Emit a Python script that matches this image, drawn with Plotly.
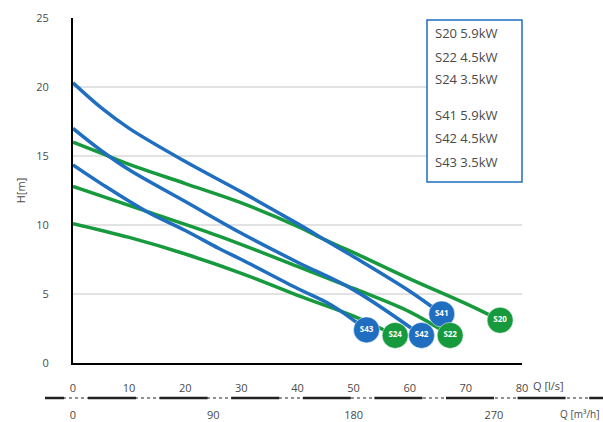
import plotly.graph_objects as go

# pump curves: flow Q [l/s] vs head H [m]
q_s41 = [0, 5, 10, 20, 30, 40, 45, 50, 60, 65.7]
h_s41 = [20.3, 18.5, 17.0, 14.6, 12.4, 10.1, 8.9, 7.7, 5.2, 3.55]
q_s42 = [0, 5, 10, 20, 30, 40, 50, 62.1]
h_s42 = [17.0, 15.4, 14.0, 11.7, 9.4, 7.3, 5.3, 2.0]
q_s43 = [0, 5, 13, 20, 26, 30, 40, 46, 52.3]
h_s43 = [14.35, 13.0, 11.0, 9.6, 8.3, 7.5, 5.4, 4.2, 2.4]

q_s20 = [0, 5, 10, 20, 30, 40, 45, 50, 60, 70, 76.1]
h_s20 = [16.0, 15.2, 14.4, 13.0, 11.6, 9.9, 8.9, 8.0, 6.1, 4.3, 3.1]
q_s22 = [0, 13, 26, 40, 50, 60, 67.2]
h_s22 = [12.8, 11.0, 9.2, 7.0, 5.4, 3.7, 2.0]
q_s24 = [0, 10, 20, 30, 40, 50, 57.4]
h_s24 = [10.1, 9.1, 7.9, 6.5, 4.9, 3.4, 2.0]

legend_labels = ["S20 5.9kW", "S22 4.5kW", "S24 3.5kW",
                 "S41 5.9kW", "S42 4.5kW", "S43 3.5kW"]
y_ticks = [0, 5, 10, 15, 20, 25]
grid_vals = [5, 10, 15, 20]
q_ls_ticks = [0, 10, 20, 30, 40, 50, 60, 70, 80]
q_m3h_ticks = [0, 90, 180, 270]

BLUE = "#1f6ebf"
GREEN = "#179a3d"
TXT = "#4a4a4a"
FONT = "Open Sans"

# plot area in pixels (603 x 422 page)
L, R, T, B = 73, 522, 18, 363
PB = 398  # bottom of paper
W = R - L


def px(x):
    return (x - L) / W


def py(y):
    return (PB - y) / (PB - T)


fig = go.Figure()

curves = [
    ("S24", q_s24, h_s24, GREEN),
    ("S22", q_s22, h_s22, GREEN),
    ("S20", q_s20, h_s20, GREEN),
    ("S43", q_s43, h_s43, BLUE),
    ("S42", q_s42, h_s42, BLUE),
    ("S41", q_s41, h_s41, BLUE),
]

for name, q, h, col in curves:
    fig.add_trace(go.Scatter(
        x=q, y=h, mode="lines",
        line=dict(color=col, width=3.5, shape="spline", smoothing=1.0),
        showlegend=False, hoverinfo="skip"
    ))

# end markers with labels
for name, q, h, col in [curves[3], curves[0], curves[4], curves[5], curves[1], curves[2]]:
    fig.add_trace(go.Scatter(
        x=[q[-1]], y=[h[-1]], mode="markers+text",
        marker=dict(size=26, color=col, line=dict(color="white", width=0.5)),
        text=["<b>" + name + "</b>"], textposition="middle center",
        textfont=dict(color="white", size=8, family=FONT),
        showlegend=False, hoverinfo="skip"
    ))

# invisible trace for the m3/h axis
fig.add_trace(go.Scatter(x=[0, 288], y=[0, 0], xaxis="x2", mode="markers",
                         marker=dict(opacity=0), showlegend=False, hoverinfo="skip"))

for g in grid_vals:
    fig.add_hline(y=g, line=dict(color="#d9d9d9", width=1.5), layer="below")

# legend box
fig.add_shape(type="rect", xref="paper", yref="paper",
              x0=px(427), x1=px(522), y0=py(182), y1=py(20),
              line=dict(color=BLUE, width=1.5), fillcolor="white", layer="above")
legend_y = [33, 57, 79, 115, 138, 162]
for lab, yy in zip(legend_labels, legend_y):
    fig.add_annotation(x=px(433), y=py(yy), xref="paper", yref="paper",
                       text=lab, showarrow=False, xanchor="left", yanchor="middle",
                       font=dict(size=13, color=TXT, family=FONT))

# dashed/dotted line under the l/s axis
fig.add_shape(type="line", xref="paper", yref="paper",
              x0=px(45), x1=px(603), y0=py(398), y1=py(398),
              line=dict(color="#222", width=1.2, dash="dot"))
seg = [(45, 64)] + [(88 + 71.6 * k, 88 + 71.6 * k + 48) for k in range(8)]
for a, b in seg:
    fig.add_shape(type="line", xref="paper", yref="paper",
                  x0=px(a), x1=px(min(b, 603)), y0=py(398), y1=py(398),
                  line=dict(color="#222", width=2.5))

fig.add_annotation(x=px(531), y=py(385), xref="paper", yref="paper",
                   text="Q [l/s]", showarrow=False, xanchor="left", yanchor="middle",
                   font=dict(size=11, color=TXT, family=FONT))
fig.add_annotation(x=px(601), y=py(414), xref="paper", yref="paper",
                   text="Q [m³/h]", showarrow=False, xanchor="right", yanchor="middle",
                   font=dict(size=10, color=TXT, family=FONT))

fig.update_layout(
    width=603, height=422,
    margin=dict(l=L, r=603 - R, t=T, b=422 - PB, autoexpand=False),
    paper_bgcolor="white", plot_bgcolor="white",
    font=dict(family=FONT, size=11, color=TXT),
    xaxis=dict(range=[0, 80], tickvals=q_ls_ticks, showgrid=False, zeroline=False,
               showline=True, linecolor="black", linewidth=2, automargin=False,
               ticks="", ticklabelstandoff=14, anchor="y"),
    xaxis2=dict(range=[0, 288], tickvals=q_m3h_ticks, overlaying="x",
                anchor="free", position=0, side="bottom", showgrid=False,
                zeroline=False, showline=False, ticks="", ticklabelstandoff=9,
                automargin=False),
    yaxis=dict(range=[0, 25], tickvals=y_ticks, showgrid=False, zeroline=False,
               showline=True, linecolor="black", linewidth=2, automargin=False,
               ticks="", ticklabelstandoff=20,
               domain=[py(B), 1],
               title=dict(text="H[m]", standoff=8, font=dict(size=11, color=TXT))),
)

fig.write_html("out.html", config={"displayModeBar": False},
               post_script="document.body.style.margin='0';")
